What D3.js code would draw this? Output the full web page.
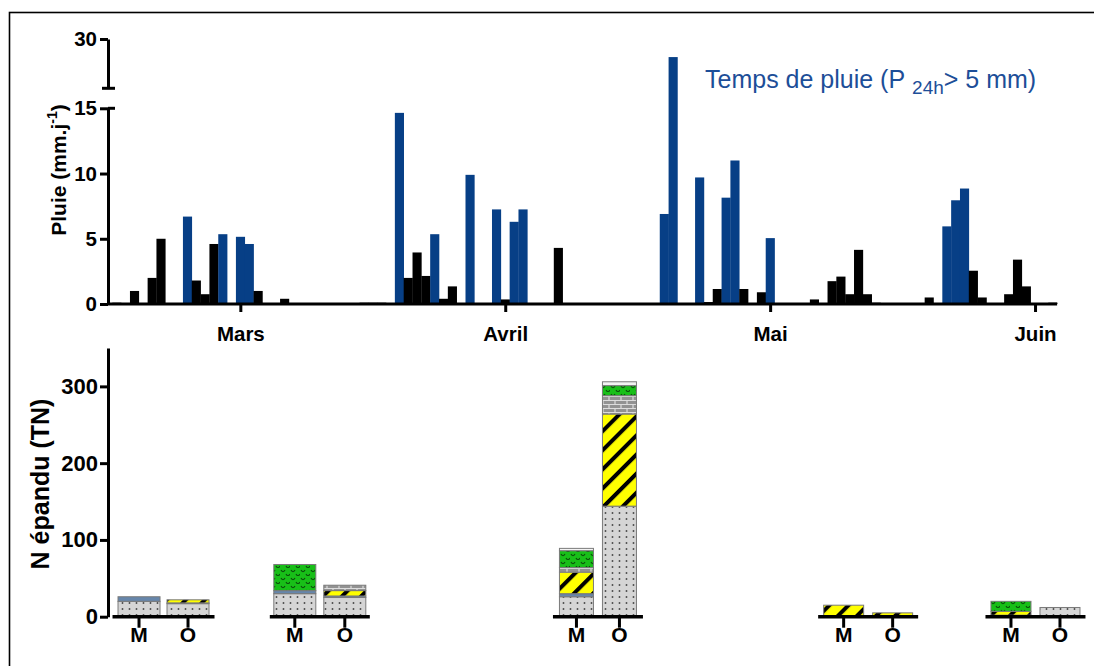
<!DOCTYPE html>
<html><head><meta charset="utf-8">
<script src="https://cdn.jsdelivr.net/npm/d3@7"></script>
<style>
html,body{margin:0;padding:0;background:#fff;}
svg{display:block;font-family:"Liberation Sans",Arial,sans-serif;}
</style></head>
<body>
<svg id="chart" width="1094" height="666"></svg>
<script>
// ---------- DATA ----------
// daily rainfall (mm/day), one value per day
const pluie = [
 0.1,0,1.0,0,2.0,5.0,0,0,6.7,1.8,
 0.75,4.6,5.35,0,5.15,4.6,1.0,0,0,0.4,
 0,0,0,0,0,0,0,0,0.1,0.1,
 0.1,0,14.65,2.0,3.95,2.15,5.35,0.4,1.35,0.05,
 9.9,0,0,7.25,0.35,6.3,7.25,0,0,0,
 4.3,0,0,0,0,0,0,0,0,0,
 0,0,6.9,24.5,0,0,9.7,0.15,1.15,8.15,
 11.0,1.15,0,0.9,5.05,0,0,0,0,0.35,
 0,1.75,2.1,0.75,4.15,0.75,0.1,0,0,0,
 0,0,0.5,0,5.95,7.95,8.85,2.55,0.5,0,
 0,0.75,3.4,1.35,0,0,0.1,0
];
// days flagged "temps de pluie" (blue)
const rainyDays = [8,12,14,15,32,36,40,43,45,46,62,63,66,69,70,74,94,95,96];
const monthLabels = ["Mars","Avril","Mai","Juin"];
const monthTickDays = [14.5,44.5,74.5,104.5];
const yTicksLow = [0,5,10,15];
const yTicksHigh = [30];
const legendMain = "Temps de pluie (P";
const legendSub = "24h";
const legendEnd = "> 5 mm)";

// bottom panel : N spread (TN), bars M and O for each spreading period
const barLabels = ["M","O","M","O","M","O","M","O","M","O"];
const spreadDay = [5.8,23.5,55.0,85.6,104.55];   // timing of each spreading period (day index)
const nDots    = [20,17,30,25,26,144,0,0,2,12];
const nSlate   = [6,1,4,2,4,0,0,0,0,0];
const nStripes = [0,4,0,7,28,120,15,5,5,0];
const nBrick   = [0,0,0,7,6,24,0,0,0,0];
const nGreen   = [0,0,34,0,22,13,0,0,13,0];
const nWhite   = [0,0,0,0,3,5,0,0,0,0];
const nTicks = [0,100,200,300];

// ---------- LAYOUT ----------
const svg = d3.select("#chart");
const dayW = 8.83, x0 = 112.3;
const xDay = d3.scaleLinear().domain([0,108]).range([x0, x0+108*dayW]);
const yLow = d3.scaleLinear().domain([0,15]).range([304,108.3]);
const yHigh = d3.scaleLinear().domain([15,30]).range([88.3,39]);
const yN = d3.scaleLinear().domain([0,350]).range([616.7,348]);
const axisX = 108;
const groupHalf = [51,50,45,50,50];
const barSpacing = [49,50,43,49,49];
const barWidth = [42,42,34,40,40];

const BLUE = "#073f86";
const TXTBLUE = "#1d4e98";

// outer frame
svg.append("rect").attr("x",9.5).attr("y",12.5).attr("width",1200).attr("height",800)
  .attr("fill","none").attr("stroke","#000").attr("stroke-width",1.6);

// ---------- PATTERNS ----------
const defs = svg.append("defs");
const pDots = defs.append("pattern").attr("id","pDots").attr("patternUnits","userSpaceOnUse")
  .attr("width",7).attr("height",6);
pDots.append("rect").attr("width",7).attr("height",6).attr("fill","#d5d5d5");
pDots.append("circle").attr("cx",3.5).attr("cy",3).attr("r",0.95).attr("fill","#4a4a4a");

const pStr = defs.append("pattern").attr("id","pStripes").attr("patternUnits","userSpaceOnUse")
  .attr("width",13.5).attr("height",13.5).attr("patternTransform","rotate(45)");
pStr.append("rect").attr("width",13.5).attr("height",13.5).attr("fill","#ffff00");
pStr.append("rect").attr("width",4).attr("height",13.5).attr("fill","#000");

const pBrick = defs.append("pattern").attr("id","pBrick").attr("patternUnits","userSpaceOnUse")
  .attr("width",12).attr("height",8);
pBrick.append("rect").attr("width",12).attr("height",8).attr("fill","#929292");
pBrick.append("path").attr("d","M0,0.5H12M0,4.5H12M3,0.5V4.5M9,4.5V8.5")
  .attr("stroke","#dcdcdc").attr("stroke-width",1.2).attr("fill","none");

const pGreen = defs.append("pattern").attr("id","pGreen").attr("patternUnits","userSpaceOnUse")
  .attr("width",10).attr("height",8);
pGreen.append("rect").attr("width",10).attr("height",8).attr("fill","#18bf18");
pGreen.append("path").attr("d","M1,2q2,3.5,4,0M6,6q2,3.5,4,0")
  .attr("stroke","#0a500a").attr("stroke-width",1.2).attr("fill","none");

// ---------- TOP PANEL ----------
const blueSet = new Set(rainyDays);
const yVal = v => v <= 15 ? yLow(v) : yHigh(v);
svg.append("g").selectAll("rect")
  .data(pluie.map((v,i)=>({v,i})).filter(d=>d.v>0))
  .join("rect")
  .attr("x", d=>xDay(d.i))
  .attr("width", d=>xDay(d.i+1)-xDay(d.i)+0.3)
  .attr("y", d=>yVal(d.v))
  .attr("height", d=>yLow(0)-yVal(d.v))
  .attr("fill", d=>blueSet.has(d.i)?BLUE:"#000");

// x axis (months)
const gx = svg.append("g").attr("transform",`translate(0,${yLow(0)})`)
  .call(d3.axisBottom(xDay).tickValues(monthTickDays)
    .tickFormat((d,i)=>monthLabels[i]).tickSize(8).tickPadding(14).tickSizeOuter(0));
gx.select(".domain").remove();
gx.append("line").attr("x1",xDay(-0.5)).attr("x2",xDay(107)).attr("stroke","#000").attr("stroke-width",3);
gx.selectAll(".tick line").attr("stroke-width",3);
gx.selectAll(".tick text").attr("font-size",20.5).attr("font-weight","bold").attr("fill","#000")
  .attr("font-family","Liberation Sans, Arial, sans-serif");

// y axis segments
const gyl = svg.append("g").attr("transform",`translate(${axisX},0)`)
  .call(d3.axisLeft(yLow).tickValues(yTicksLow).tickSize(8).tickPadding(3).tickSizeOuter(0));
const gyh = svg.append("g").attr("transform",`translate(${axisX},0)`)
  .call(d3.axisLeft(yHigh).tickValues(yTicksHigh).tickSize(8).tickPadding(3).tickSizeOuter(0));
[gyl,gyh].forEach(g=>{
  g.select(".domain").attr("stroke-width",3);
  g.selectAll(".tick line").attr("stroke-width",3);
  g.selectAll(".tick text").attr("font-size",20.5).attr("font-weight","bold").attr("fill","#000")
   .attr("font-family","Liberation Sans, Arial, sans-serif");
});
// break caps
svg.append("line").attr("x1",axisX-6).attr("x2",axisX+7).attr("y1",yHigh(15)).attr("y2",yHigh(15))
  .attr("stroke","#000").attr("stroke-width",3);
svg.append("line").attr("x1",axisX).attr("x2",axisX+7).attr("y1",yLow(15)).attr("y2",yLow(15))
  .attr("stroke","#000").attr("stroke-width",3);

// y label top
const lt = svg.append("text").attr("transform",`translate(66,${170}) rotate(-90)`)
  .attr("text-anchor","middle").attr("font-size",21).attr("font-weight","bold");
lt.append("tspan").text("Pluie (mm.j");
lt.append("tspan").attr("font-size",14).attr("dy",-9).text("-1");
lt.append("tspan").attr("dy",9).text(")");

// legend
const lg = svg.append("text").attr("x",705).attr("y",88).attr("fill",TXTBLUE).attr("font-size",25);
lg.append("tspan").text(legendMain);
lg.append("tspan").attr("font-size",19).attr("dx",7).attr("dy",6).text(legendSub);
lg.append("tspan").attr("dy",-6).text(legendEnd);

// ---------- BOTTOM PANEL ----------
const keys = ["dots","slate","stripes","brick","green","white"];
const series = {dots:nDots, slate:nSlate, stripes:nStripes, brick:nBrick, green:nGreen, white:nWhite};
const fills = {dots:"url(#pDots)", slate:"#6686ab", stripes:"url(#pStripes)", brick:"url(#pBrick)", green:"url(#pGreen)", white:"#f3f3f3"};
const rows = barLabels.map((lab,i)=>{
  const r = {lab, i, g: Math.floor(i/2), side: i%2};
  keys.forEach(k=>r[k]=series[k][i]);
  return r;
});
const stack = d3.stack().keys(keys)(rows);
const barCx = r => xDay(spreadDay[r.g]) + (r.side===0?-1:1)*barSpacing[r.g]/2;

const gb = svg.append("g");
stack.forEach(s=>{
  gb.append("g").selectAll("rect")
    .data(s.filter(d=>d[1]-d[0]>0))
    .join("rect")
    .attr("x", d=>barCx(d.data)-barWidth[d.data.g]/2)
    .attr("width", d=>barWidth[d.data.g])
    .attr("y", d=>yN(d[1]))
    .attr("height", d=>yN(d[0])-yN(d[1]))
    .attr("fill", fills[s.key])
    .attr("stroke","#7a7a7a").attr("stroke-width",1);
});

// group baselines + ticks + labels
spreadDay.forEach((d,g)=>{
  const cx = xDay(d);
  svg.append("line").attr("x1",cx-groupHalf[g]).attr("x2",cx+groupHalf[g])
    .attr("y1",yN(0)).attr("y2",yN(0)).attr("stroke","#000").attr("stroke-width",3.5);
});
rows.forEach(r=>{
  const cx = barCx(r);
  svg.append("line").attr("x1",cx).attr("x2",cx).attr("y1",yN(0)).attr("y2",yN(0)+11)
    .attr("stroke","#000").attr("stroke-width",3);
  svg.append("text").attr("x",cx).attr("y",641.5).attr("text-anchor","middle")
    .attr("font-size",21).attr("font-weight","bold").text(r.lab);
});

const gyn = svg.append("g").attr("transform",`translate(${axisX},0)`)
  .call(d3.axisLeft(yN).tickValues(nTicks).tickSize(8).tickPadding(2).tickSizeOuter(0));
gyn.select(".domain").attr("stroke-width",3);
gyn.selectAll(".tick line").attr("stroke-width",3);
gyn.selectAll(".tick text").attr("font-size",22).attr("font-weight","bold").attr("fill","#000")
  .attr("font-family","Liberation Sans, Arial, sans-serif");

svg.append("text").attr("transform",`translate(49,484) rotate(-90)`)
  .attr("text-anchor","middle").attr("font-size",25).attr("font-weight","bold").text("N épandu (TN)");
</script>
</body></html>
